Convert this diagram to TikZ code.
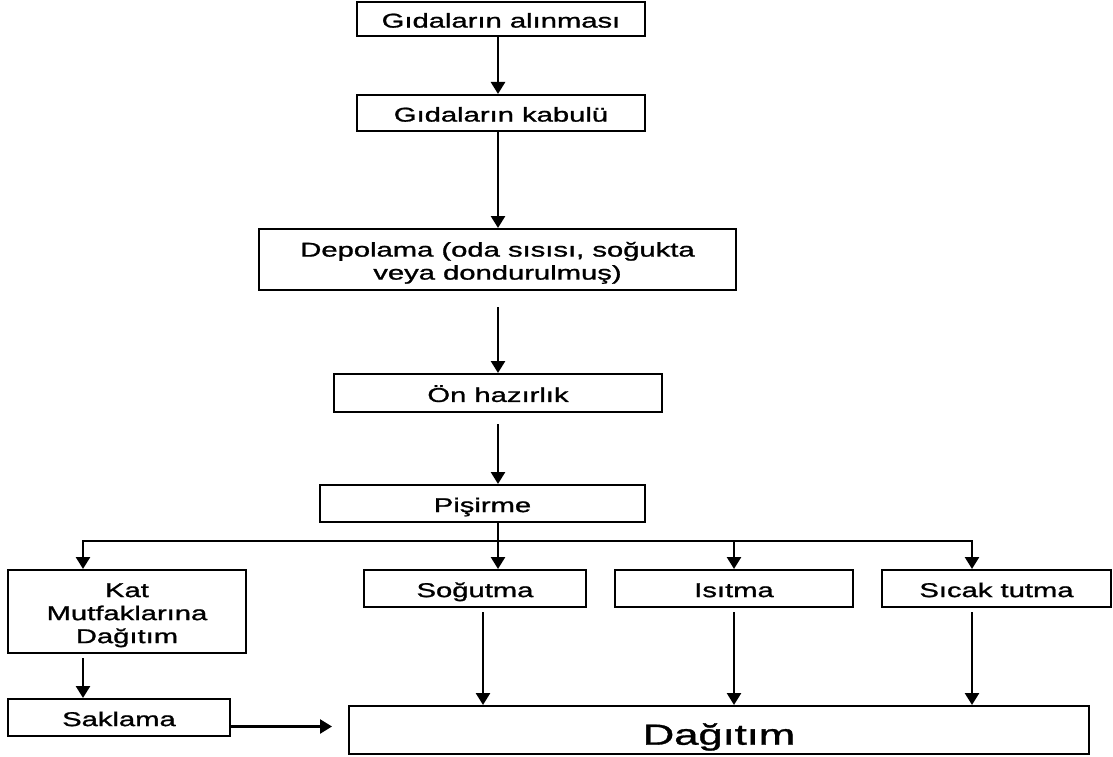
\documentclass[tikz,border=0pt]{standalone}
\usepackage{fontspec}
\setmainfont{Liberation Sans}[FakeBold=1]
\usepackage{graphicx}
\usetikzlibrary{arrows.meta,calc}
\newcommand{\wtxt}[1]{\raisebox{-4pt}[\height][\depth]{\scalebox{1.46}[1]{\begin{tabular}{@{}c@{}}#1\end{tabular}}}}
\begin{document}
\begin{tikzpicture}[x=1pt,y=-1pt,
  box/.style={draw,line width=2pt,fill=white,inner sep=0pt,font=\fontsize{20}{23}\selectfont},
  arr/.style={line width=2.6pt,-{Triangle[width=14pt,length=12pt]}},
  ln/.style={line width=2.4pt}]
\useasboundingbox[fill=white] (0,0) rectangle (1113,757);
% nodes
\node[box,minimum width=288pt,minimum height=34pt] (A) at (501,19) {\wtxt{Gıdaların alınması}};
\node[box,minimum width=288pt,minimum height=36pt] (B) at (501,113) {\wtxt{Gıdaların kabulü}};
\node[box,minimum width=477pt,minimum height=61pt] (C) at (497.5,259.5) {\wtxt{Depolama (oda sısısı, soğukta\\veya dondurulmuş)}};
\node[box,minimum width=328pt,minimum height=38pt] (D) at (498,393) {\wtxt{Ön hazırlık}};
\node[box,minimum width=325pt,minimum height=37pt] (E) at (482.5,503.5) {\wtxt{Pişirme}};
\node[box,minimum width=238pt,minimum height=83pt] (F) at (127,611.5) {\wtxt{Kat\\Mutfaklarına\\Dağıtım}};
\node[box,minimum width=222pt,minimum height=37pt] (G) at (475,588.5) {\wtxt{Soğutma}};
\node[box,minimum width=238pt,minimum height=37pt] (H) at (734,588.5) {\wtxt{Isıtma}};
\node[box,minimum width=229pt,minimum height=37pt] (I) at (996.5,588.5) {\wtxt{Sıcak tutma}};
\node[box,minimum width=222pt,minimum height=37pt] (J) at (119,717.5) {\wtxt{Saklama}};
\node[box,minimum width=740pt,minimum height=48pt,font=\fontsize{29}{33}\selectfont] (K) at (719,730) {\raisebox{-7pt}[\height][\depth]{\scalebox{1.5}[1]{Dağıtım}}};
% helper coordinates
\coordinate (sp) at (498,0);
\coordinate (xf) at (83,0);
\coordinate (xg) at (483,0);
\coordinate (xi) at (972,0);
\coordinate (c1) at ([yshift=-16pt]C.south);
\coordinate (d1) at ([yshift=-11pt]D.south);
\coordinate (h) at ([yshift=-18pt]E.south);
\coordinate (f1) at ([yshift=-4pt]F.south);
\coordinate (g1) at ([yshift=-4pt]G.south);
\coordinate (s1) at ([yshift=-9pt]J.east);
\coordinate (s2) at ([xshift=-16pt]K.west);
% main column
\draw[arr] (A.south -| sp) -- (B.north -| sp);
\draw[arr] (B.south -| sp) -- (C.north -| sp);
\draw[arr] (c1 -| sp) -- (D.north -| sp);
\draw[arr] (d1 -| sp) -- (E.north -| sp);
% branching
\draw[ln] (E.south -| sp) -- (h -| sp);
\draw[ln,line cap=rect] (xf |- h) -- (xi |- h);
\draw[arr] (xf |- h) -- (xf |- F.north);
\draw[arr] (sp |- h) -- (sp |- G.north);
\draw[arr] (H.north |- h) -- (H.north);
\draw[arr] (xi |- h) -- (xi |- I.north);
% lower
\draw[arr] (xf |- f1) -- (xf |- J.north);
\draw[arr] (s1) -- (s2 |- s1);
\draw[arr] (xg |- g1) -- (xg |- K.north);
\draw[arr] (H.south |- g1) -- (H.south |- K.north);
\draw[arr] (xi |- g1) -- (xi |- K.north);
\end{tikzpicture}
\end{document}
